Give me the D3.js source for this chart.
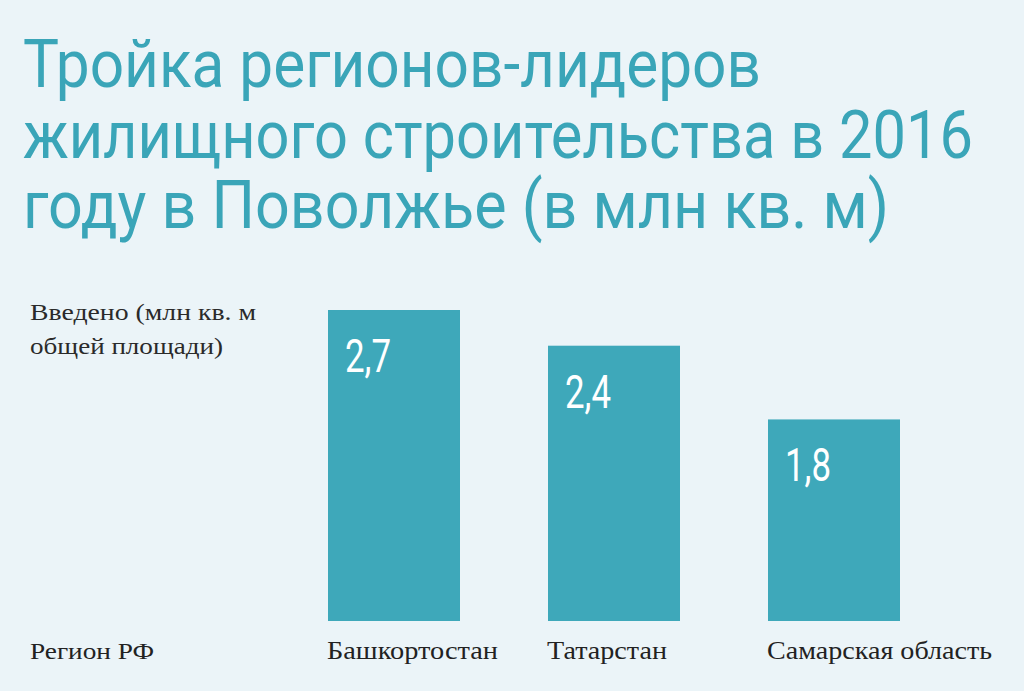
<!DOCTYPE html>
<html>
<head>
<meta charset="utf-8">
<script src="https://cdn.jsdelivr.net/npm/d3@7/dist/d3.min.js"></script>
<style>
  html, body { margin: 0; padding: 0; background: #ebf4f8; }
  svg { display: block; }
</style>
</head>
<body>
<div id="chart"></div>
<script>
// data
var regions = ['Башкортостан', 'Татарстан', 'Самарская область'];
var values = [2.7, 2.39, 1.75];
var valueLabels = ['2,7', '2,4', '1,8'];
var titleLines = ['Тройка регионов-лидеров', 'жилищного строительства в 2016', 'году в Поволжье (в млн кв. м)'];
var measureLines = ['Введено (млн кв. м', 'общей площади)'];
var axisTitle = 'Регион РФ';

var w = 1024, h = 691;
var teal = '#3ea8ba';

var svg = d3.select('#chart')
  .append('svg')
  .attr('width', w)
  .attr('height', h);

svg.append('rect')
  .attr('width', w)
  .attr('height', h)
  .attr('fill', '#ebf4f8');

//title: smaller font stretched up, so it reads as a tall condensed face
var titleWidths = [738, 950, 866];
var tSize = 56, tStretch = 67 / 56;
svg.selectAll('text.title')
    .data(titleLines)
  .enter()
  .append('text')
    .attr('class', 'title')
    .attr('transform', function(d, i) { return 'translate(23,' + (87 + i * 70.5) + ') scale(1,' + tStretch + ')'; })
    .attr('textLength', function(d, i) { return titleWidths[i]; })
    .attr('lengthAdjust', 'spacingAndGlyphs')
    .style('font-family', 'Roboto, sans-serif')
    .style('font-weight', 400)
    .style('font-size', tSize + 'px')
    .style('fill', '#3aa5b8')
    .text(function(d) { return d; });

var x = d3.scaleBand()
  .domain(regions)
  .range([328, 900])
  .paddingInner(0.4)
  .paddingOuter(0);

var y = d3.scaleLinear()
  .domain([0, 2.7])
  .range([621, 310]);

var data = regions.map(function(r, i) { return { region: r, value: values[i], label: valueLabels[i] }; });

svg.selectAll('rect.bar')
    .data(data)
  .enter()
  .append('rect')
    .attr('class', 'bar')
    .attr('x', function(d) { return x(d.region); })
    .attr('y', function(d) { return y(d.value); })
    .attr('width', x.bandwidth())
    .attr('height', function(d) { return y(0) - y(d.value); })
    .attr('fill', teal);

svg.selectAll('text.value')
    .data(data)
  .enter()
  .append('text')
    .attr('class', 'value')
    .attr('x', function(d) { return x(d.region) + 17; })
    .attr('y', function(d) { return y(d.value) + 62; })
    .attr('textLength', 46)
    .attr('lengthAdjust', 'spacingAndGlyphs')
    .style('font-family', 'Roboto, sans-serif')
    .style('font-weight', 400)
    .style('font-size', '47px')
    .style('fill', '#ffffff')
    .text(function(d) { return d.label; });

//category labels under the bars
var serif = '"Liberation Serif", "DejaVu Serif", serif';
var catWidths = [171, 120, 225];
svg.selectAll('text.cat')
    .data(data)
  .enter()
  .append('text')
    .attr('class', 'cat')
    .attr('x', function(d) { return x(d.region) - 1; })
    .attr('y', 659)
    .attr('textLength', function(d, i) { return catWidths[i]; })
    .attr('lengthAdjust', 'spacingAndGlyphs')
    .style('font-family', serif)
    .style('font-size', '25px')
    .style('fill', '#222')
    .text(function(d) { return d.region; });

var measureWidths = [226, 193];
svg.selectAll('text.measure')
    .data(measureLines)
  .enter()
  .append('text')
    .attr('class', 'measure')
    .attr('x', 30)
    .attr('y', function(d, i) { return 320 + i * 34; })
    .attr('textLength', function(d, i) { return measureWidths[i]; })
    .attr('lengthAdjust', 'spacingAndGlyphs')
    .style('font-family', serif)
    .style('font-size', '23px')
    .style('fill', '#2a2a2a')
    .text(function(d) { return d; });

svg.append('text')
  .attr('x', 30)
  .attr('y', 659)
  .attr('textLength', 124)
  .attr('lengthAdjust', 'spacingAndGlyphs')
  .style('font-family', serif)
  .style('font-size', '24px')
  .style('fill', '#222')
  .text(axisTitle);
</script>
</body>
</html>
